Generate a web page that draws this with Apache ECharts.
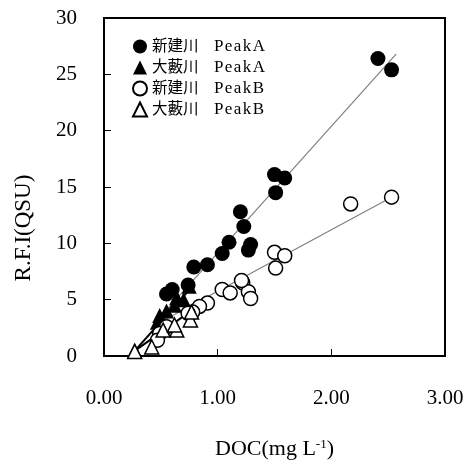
<html><head><meta charset='utf-8'>
<script src='https://cdn.jsdelivr.net/npm/echarts@6/dist/echarts.min.js'></script>
</head><body style='margin:0;background:#fff'>
<div id='main' style='width:468px;height:460px'></div>
<script>
// 新建川 PeakA (DOC, RFI)
var shinA = [[2.41,26.4],[2.53,25.4],[1.50,16.1],[1.59,15.8],[1.51,14.5],[1.20,12.8],[1.23,11.5],
  [1.10,10.1],[1.29,9.9],[1.27,9.4],[1.04,9.1],[0.91,8.1],[0.79,7.9],[0.74,6.3],[0.60,5.9],[0.55,5.5]];
// 大藪川 PeakA
var oyaA = [[0.27,0.5],[0.47,3.0],[0.49,3.6],[0.55,4.0],[0.62,4.5],[0.64,5.2],[0.70,5.0],[0.75,6.2]];
// 新建川 PeakB
var shinB = [[2.53,14.1],[2.17,13.5],[1.50,9.2],[1.59,8.9],[1.51,7.8],[1.22,6.5],[1.27,5.7],[1.29,5.1],
  [1.04,5.9],[1.11,5.6],[1.21,6.7],[0.91,4.7],[0.84,4.4],[0.78,3.9],[0.74,3.8],[0.55,2.6],[0.49,2.0],[0.47,1.4]];
// 大藪川 PeakB
var oyaB = [[0.27,0.4],[0.42,0.8],[0.52,2.3],[0.64,2.3],[0.62,2.75],[0.76,3.2],[0.77,3.9]];
// 回帰線の端点
var fitShinA = [[0.45,2.97],[2.57,26.8]];
var fitShinB = [[0.45,2.75],[2.55,14.2]];
var fitOyaA = [[0.27,0.45],[0.78,6.2]];
var fitOyaB = [[0.27,0.45],[0.85,4.6]];
var names = ['新建川 PeakA', '大藪川 PeakA', '新建川 PeakB', '大藪川 PeakB'];

var serif = "'Liberation Serif','Noto Sans CJK JP',serif";
var chart = echarts.init(document.getElementById('main'));
function pts(name, data, symbol, filled, size) {
  return {name: name, type: 'scatter', data: data, symbol: symbol, symbolSize: size, z: 3,
    itemStyle: filled ? {color: '#000', opacity: 1} : {color: '#fff', borderColor: '#000', borderWidth: 1.5, opacity: 1}};
}
function fit(data, color, w) {
  return {type: 'line', data: data, symbol: 'none', silent: true, z: 2,
    lineStyle: {color: color, width: w}};
}
chart.setOption({
  animation: false,
  grid: {left: 104, right: 23, top: 18, bottom: 104, outerBoundsMode: 'none', containLabel: false,
    show: true, borderColor: '#000', borderWidth: 2},
  legend: {
    data: names, orient: 'vertical', left: 127, top: 33, itemGap: 4, itemWidth: 14, itemHeight: 14,
    formatter: function (n) {
      var p = n.split(' ');
      return '{c|' + p[0] + '}{l|' + p[1].split('').join('\u200a') + '}';
    },
    textStyle: {color: '#000', rich: {
      c: {fontFamily: serif, fontSize: 15.5, color: '#000', width: 62},
      l: {fontFamily: serif, fontSize: 17, color: '#000'}
    }}
  },
  graphic: [{
    type: 'text', x: 24, y: 228, rotation: Math.PI / 2,
    style: {text: 'R.F.I(QSU)', font: "23px 'Liberation Serif',serif", fill: '#000',
      textAlign: 'center', textVerticalAlign: 'middle'}
  }],
  xAxis: {
    type: 'value', min: 0, max: 3, interval: 1,
    name: '{a|DOC(mg L}{s|-1}{a|)}', nameLocation: 'middle', nameGap: 82,
    nameTextStyle: {rich: {a: {fontFamily: serif, fontSize: 22, color: '#000'},
      s: {fontFamily: serif, fontSize: 13, color: '#000', verticalAlign: 'top', padding: [0,0,10,0]}}},
    axisLine: {lineStyle: {color: '#000', width: 2}},
    axisTick: {inside: true, length: 7, lineStyle: {color: '#000'}},
    splitLine: {show: false},
    axisLabel: {fontFamily: serif, fontSize: 21, color: '#000', margin: 32,
      formatter: function (v) { return v.toFixed(2); }}
  },
  yAxis: {
    type: 'value', min: 0, max: 30, interval: 5,
    splitLine: {show: false},
    axisLine: {lineStyle: {color: '#000', width: 2}},
    axisTick: {inside: true, length: 7, lineStyle: {color: '#000'}},
    axisLabel: {fontFamily: serif, fontSize: 21, color: '#000', margin: 27}
  },
  series: [
    fit(fitShinA, '#808080', 1.2),
    fit(fitShinB, '#808080', 1.2),
    fit(fitOyaA, '#000', 2),
    fit(fitOyaB, '#000', 2),
    pts(names[0], shinA, 'circle', true, 15),
    pts(names[1], oyaA, 'triangle', true, 15),
    pts(names[2], shinB, 'circle', false, 14),
    pts(names[3], oyaB, 'triangle', false, 14)
  ]
});
</script></body></html>
